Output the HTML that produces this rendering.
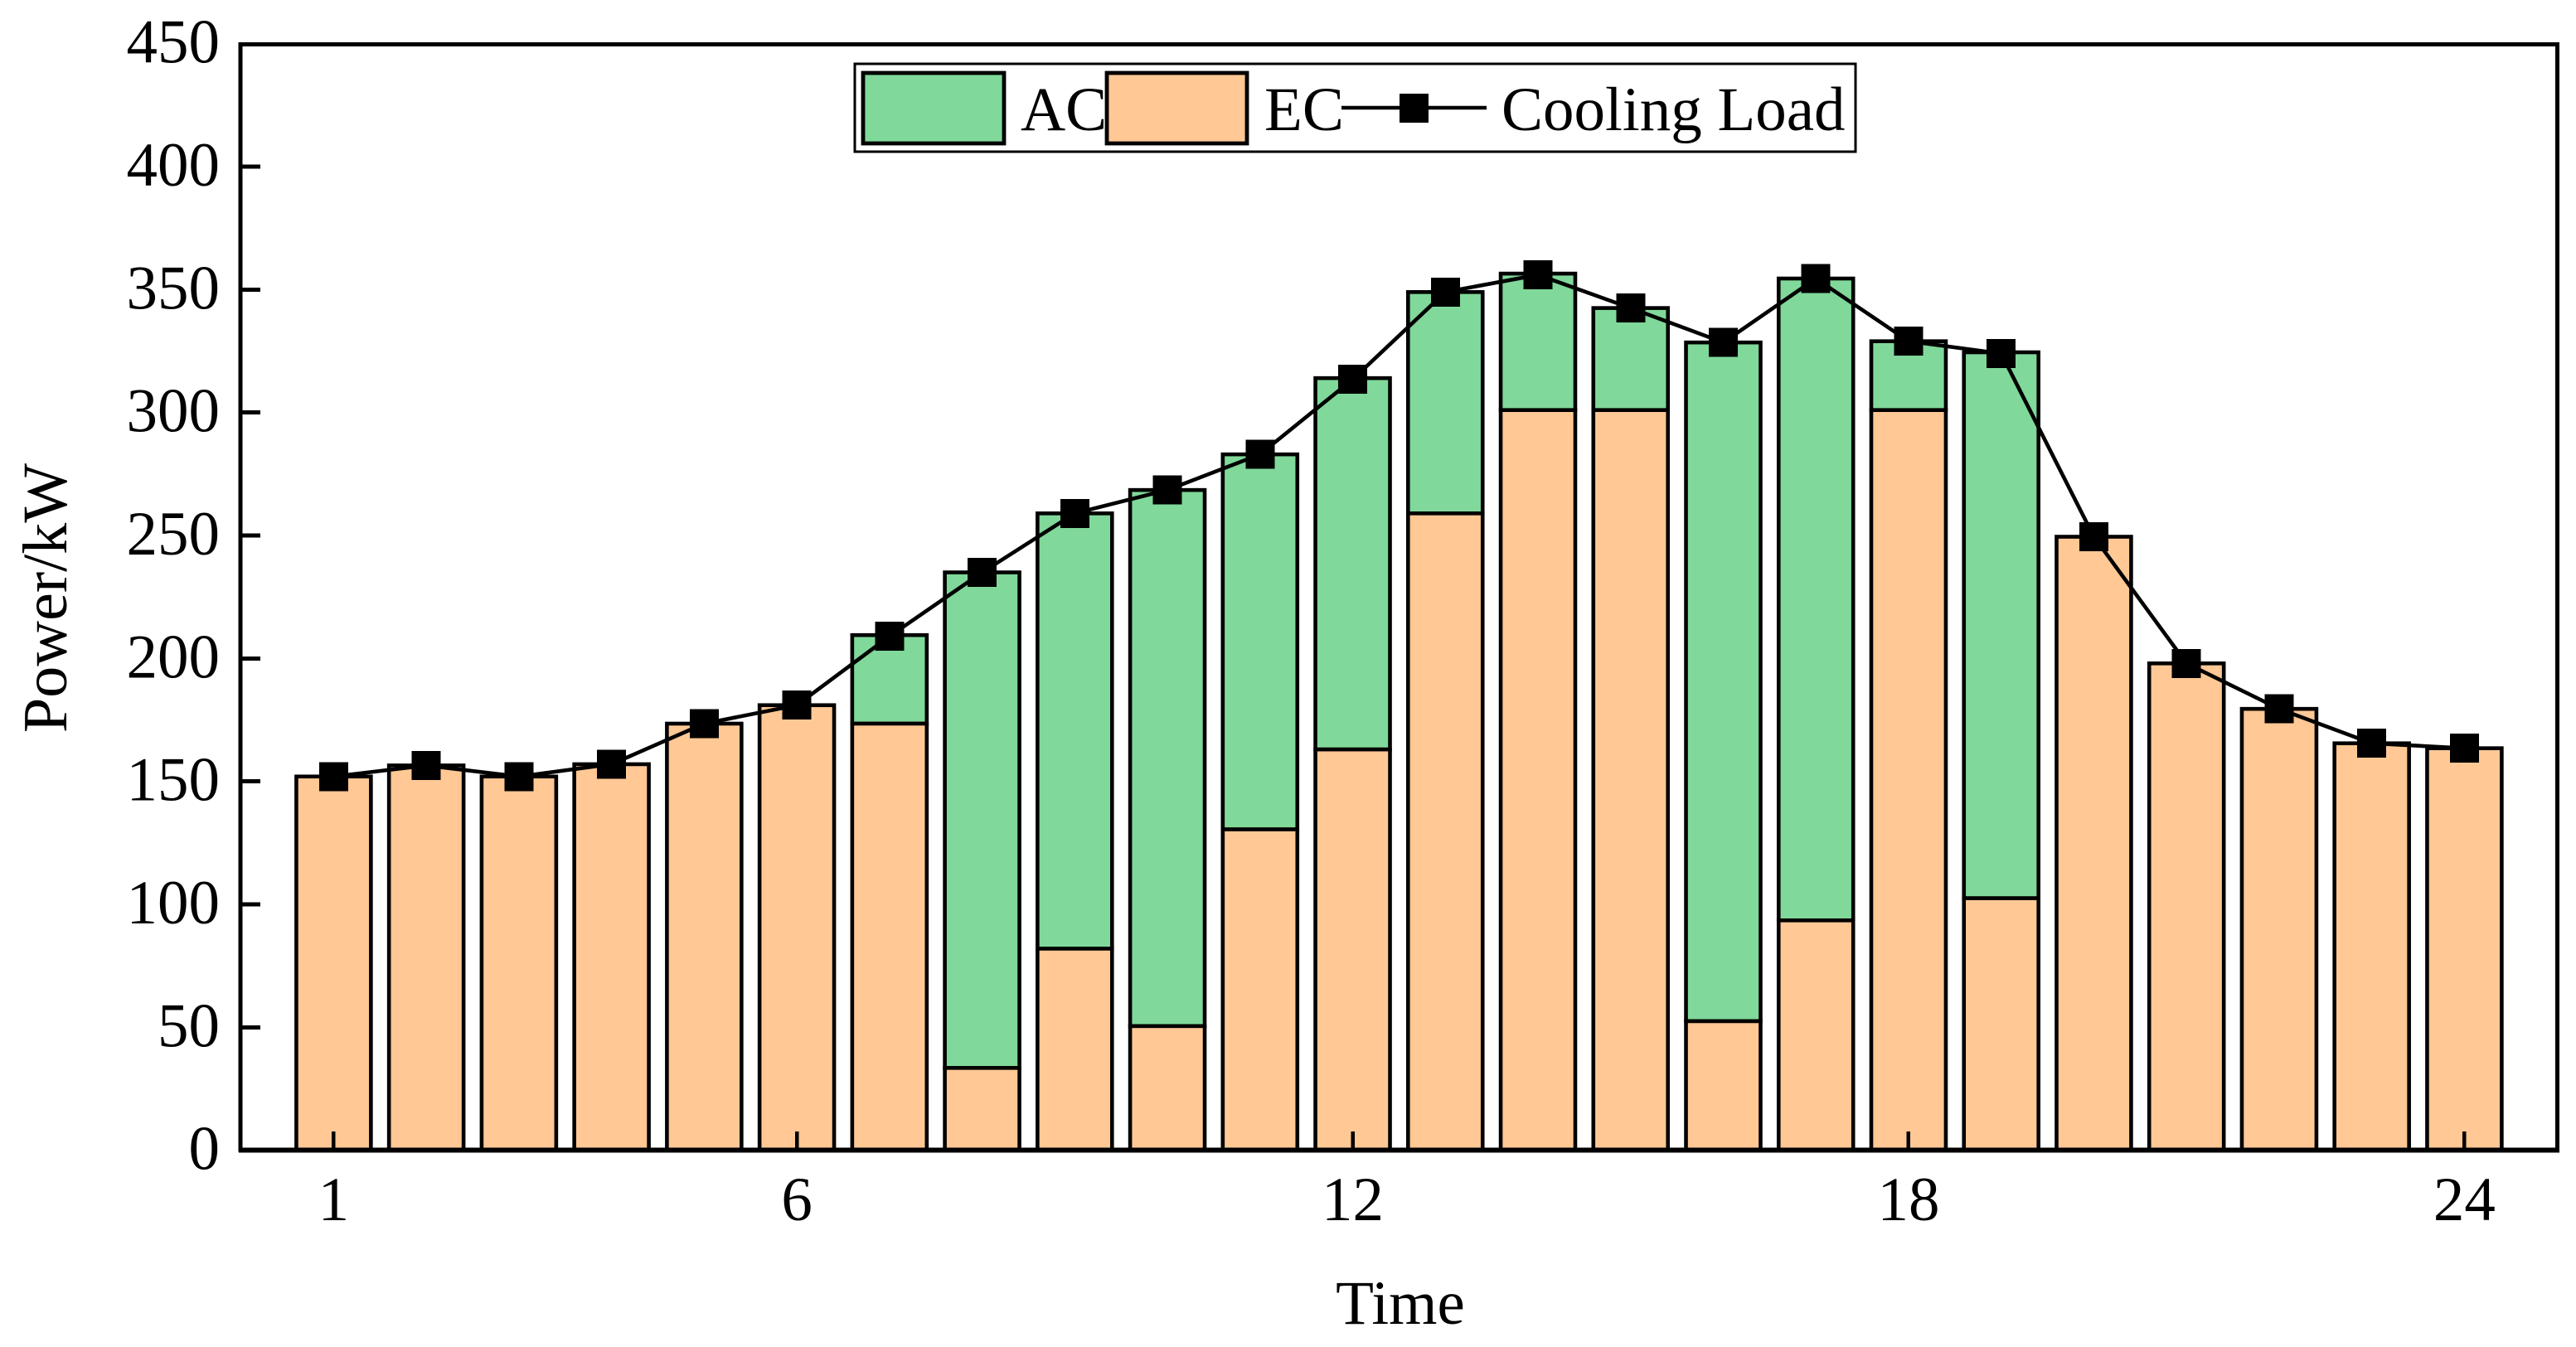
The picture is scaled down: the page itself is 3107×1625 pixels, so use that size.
<!DOCTYPE html>
<html>
<head>
<meta charset="utf-8">
<title>Cooling power balance</title>
<style>
html,body{margin:0;padding:0;background:#fff;width:3107px;height:1625px;overflow:hidden}
svg{display:block}
text{font-family:"Liberation Serif","Times New Roman",serif;fill:#000}
</style>
</head>
<body>
<svg id="chart" xmlns="http://www.w3.org/2000/svg" width="3107" height="1625" viewBox="0 0 3107 1625"></svg>
<script>
const hours = [1,2,3,4,5,6,7,8,9,10,11,12,13,14,15,16,17,18,19,20,21,22,23,24];
const ecValues = [152,156.5,152,157,173.5,181,173.5,33.5,82,50.5,130.5,163,259,301,301,52.5,93.5,301,102.5,249.5,198,179.5,165.5,163.5];
const acValues = [0,0,0,0,0,0,36,201.5,177,218,152.5,151,90,55.5,41.5,276,261,28,222,0,0,0,0,0];
const coolingLoad = [152,156.5,152,157,173.5,181,209,235,259,268.5,283,313.5,349,356,342.5,328.5,354.5,329,324,249.5,198,179.5,165.5,163.5];
const yTickLabels = [0,50,100,150,200,250,300,350,400,450];
const xTickLabels = [1,6,12,18,24];

const svg = document.getElementById('chart');
const NS = 'http://www.w3.org/2000/svg';
const xOf = v => 402.4 + (v - 1) * 111.74;
const yOf = v => 1387.7 - v * 2.9667;
const BAR_W = 0.805 * 111.74;

function make(tag, attrs, parent) {
  const el = document.createElementNS(NS, tag);
  for (const k in attrs) el.setAttribute(k, attrs[k]);
  (parent || svg).appendChild(el);
  return el;
}

function drawBar(hour, base, value, fill) {
  return make('rect', {
    x: xOf(hour) - BAR_W / 2,
    y: yOf(base + value),
    width: BAR_W,
    height: yOf(base) - yOf(base + value),
    fill: fill, stroke: '#000', 'stroke-width': 4.6
  });
}

hours.forEach((h, i) => {
  const ac = drawBar(h, ecValues[i], acValues[i], '#80D89A');
  
  
  const ec = drawBar(h, 0, ecValues[i], '#FFC895');
  
  
});

// axis frame
const frame = make('rect', {x: 290, y: 53.5, width: 2794.5, height: 1333.5, fill: 'none', stroke: '#000', 'stroke-width': 5, 'shape-rendering': 'crispEdges'});


const bottomAxis = make('line', {x1: 288, x2: 3087, y1: 1387.5, y2: 1387.5, stroke: '#000', 'stroke-width': 6, 'shape-rendering': 'crispEdges'});



// y ticks and labels
yTickLabels.forEach(v => {
  if (v > 0 && v < 450) {
    const t = make('line', {x1: 290, x2: 314, y1: yOf(v), y2: yOf(v), stroke: '#000', 'stroke-width': 5, 'shape-rendering': 'crispEdges'});
    
    
  }
  const l = make('text', {x: 265, y: yOf(v) + 23, 'text-anchor': 'end', 'font-size': 75});
  l.textContent = v;
  
  
});

// x ticks and labels
xTickLabels.forEach(v => {
  const t = make('line', {x1: xOf(v), x2: xOf(v), y1: 1365, y2: 1386, stroke: '#000', 'stroke-width': 4.5, 'shape-rendering': 'crispEdges'});
  
  
  const l = make('text', {x: xOf(v), y: 1472, 'text-anchor': 'middle', 'font-size': 75});
  l.textContent = v;
  
  
});

// cooling load line and markers
const loadLine = make('polyline', {
  points: hours.map((h, i) => xOf(h) + ',' + yOf(coolingLoad[i])).join(' '),
  fill: 'none', stroke: '#000', 'stroke-width': 4.6
});


hours.forEach((h, i) => {
  const m = make('rect', {x: xOf(h) - 17.5, y: yOf(coolingLoad[i]) - 17.5, width: 35, height: 35, fill: '#000', 'shape-rendering': 'crispEdges'});
  
  
});

// axis titles
const xTitle = make('text', {x: 1689, y: 1597, 'text-anchor': 'middle', 'font-size': 75});
xTitle.textContent = 'Time';


const yTitle = make('text', {x: 0, y: 0, 'text-anchor': 'middle', 'font-size': 76, transform: 'translate(80,721.5) rotate(-90)'});
yTitle.textContent = 'Power/kW';



// legend
const legend = make('g', {});


const legendBox = make('rect', {x: 1031, y: 77, width: 1207, height: 106, fill: '#fff', stroke: '#000', 'stroke-width': 2.6, 'shape-rendering': 'crispEdges'}, legend);


const acSwatch = make('rect', {x: 1041, y: 88, width: 170, height: 85, fill: '#80D89A', stroke: '#000', 'stroke-width': 4.8}, legend);


const acLabel = make('text', {x: 1231, y: 157, 'font-size': 75}, legend);
acLabel.textContent = 'AC';


const ecSwatch = make('rect', {x: 1335, y: 88, width: 169, height: 85, fill: '#FFC895', stroke: '#000', 'stroke-width': 4.8}, legend);


const ecLabel = make('text', {x: 1525, y: 157, 'font-size': 75}, legend);
ecLabel.textContent = 'EC';


const legLine = make('line', {x1: 1618, x2: 1793, y1: 130, y2: 130, stroke: '#000', 'stroke-width': 4.6}, legend);


const legMark = make('rect', {x: 1688, y: 113, width: 35, height: 35, fill: '#000', 'shape-rendering': 'crispEdges'}, legend);


const loadLabel = make('text', {x: 1811, y: 157, 'font-size': 75}, legend);
loadLabel.textContent = 'Cooling Load';


</script>
</body>
</html>
